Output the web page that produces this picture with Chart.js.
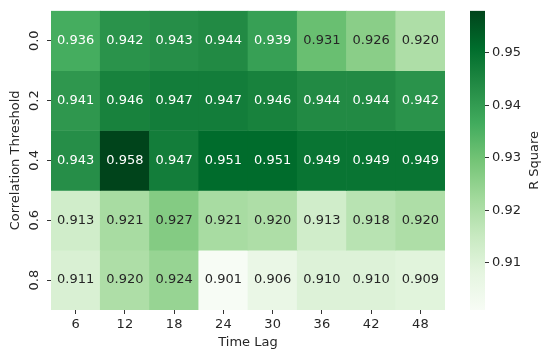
<!DOCTYPE html>
<html>
<head>
<meta charset="utf-8">
<script src="https://cdn.jsdelivr.net/npm/chart.js@4/dist/chart.umd.min.js"></script>
<style>
  body { margin: 0; background: #fff; }
  .wrap { position: relative; width: 550px; height: 359px; }
  #heat { position: absolute; left: 0; top: 0; }
  #cbar { position: absolute; left: 460px; top: 0; }
</style>
</head>
<body>
<div class="wrap">
  <canvas id="heat" width="460" height="359"></canvas>
  <canvas id="cbar" width="90" height="359"></canvas>
</div>
<script>
// data
const timeLags = ["6", "12", "18", "24", "30", "36", "42", "48"];
const thresholds = ["0.0", "0.2", "0.4", "0.6", "0.8"];
const row00 = [0.936, 0.942, 0.943, 0.944, 0.939, 0.931, 0.926, 0.920];
const row02 = [0.941, 0.946, 0.947, 0.947, 0.946, 0.944, 0.944, 0.942];
const row04 = [0.943, 0.958, 0.947, 0.951, 0.951, 0.949, 0.949, 0.949];
const row06 = [0.913, 0.921, 0.927, 0.921, 0.920, 0.913, 0.918, 0.920];
const row08 = [0.911, 0.920, 0.924, 0.901, 0.906, 0.910, 0.910, 0.909];
const rows = [row00, row02, row04, row06, row08];
const cbTicks = [0.91, 0.92, 0.93, 0.94, 0.95];
const vmin = 0.901, vmax = 0.958;

const FONT = "'DejaVu Sans', sans-serif";
const DARK = "#262626";

// matplotlib Greens
const greens = ["#f7fcf5", "#e5f5e0", "#c7e9c0", "#a1d99b", "#74c476", "#41ab5d", "#238b45", "#006d2c", "#00441b"];
function hexRgb(h) {
  return [parseInt(h.slice(1, 3), 16), parseInt(h.slice(3, 5), 16), parseInt(h.slice(5, 7), 16)];
}
function greenRgb(v) {
  let t = (v - vmin) / (vmax - vmin);
  t = Math.max(0, Math.min(1, t));
  const p = t * (greens.length - 1);
  const i = Math.min(Math.floor(p), greens.length - 2);
  const f = p - i;
  const a = hexRgb(greens[i]), b = hexRgb(greens[i + 1]);
  return a.map((c, k) => Math.round(c + (b[k] - c) * f));
}
function greenCss(v) {
  const c = greenRgb(v);
  return "rgb(" + c.join(",") + ")";
}
// seaborn picks text colour from luminance
function textColor(v) {
  const lin = greenRgb(v).map(c => {
    c = c / 255;
    return c <= 0.03928 ? c / 12.92 : Math.pow((c + 0.055) / 1.055, 2.4);
  });
  const lum = 0.2126 * lin[0] + 0.7152 * lin[1] + 0.0722 * lin[2];
  return lum > 0.408 ? DARK : "#ffffff";
}

// cell texts + rotated y labels + axis titles
const heatLabels = {
  id: "heatLabels",
  afterDatasetsDraw(chart) {
    const ctx = chart.ctx;
    ctx.save();
    ctx.font = "13px " + FONT;
    ctx.textAlign = "center";
    ctx.textBaseline = "middle";
    chart.data.datasets.forEach((ds, di) => {
      const meta = chart.getDatasetMeta(di);
      meta.data.forEach((bar, i) => {
        const v = rows[di][i];
        ctx.fillStyle = textColor(v);
        ctx.fillText(v.toFixed(3), bar.x, (bar.y + bar.base) / 2);
      });
    });
    ctx.restore();
  },
  afterDraw(chart) {
    const ctx = chart.ctx;
    const ys = chart.scales.y;
    const xs = chart.scales.x;
    const area = chart.chartArea;
    ctx.save();
    ctx.fillStyle = DARK;
    ctx.font = "13px " + FONT;
    ctx.textAlign = "center";
    ctx.textBaseline = "middle";
    thresholds.forEach((lab, i) => {
      const y = ys.getPixelForValue(i + 0.5);
      ctx.save();
      ctx.translate(35, y);
      ctx.rotate(-Math.PI / 2);
      ctx.fillText(lab, 0, 0);
      ctx.restore();
    });
    ctx.save();
    ctx.translate(16, (area.top + area.bottom) / 2);
    ctx.rotate(-Math.PI / 2);
    ctx.fillText("Correlation Threshold", 0, 0);
    ctx.restore();
    ctx.fillText("Time Lag", (xs.left + xs.right) / 2, 343);
    ctx.restore();
  }
};

const heatDatasets = rows.map((r, i) => ({
  label: thresholds[i],
  data: r.map(() => 1),
  backgroundColor: r.map(greenCss),
  borderWidth: 0,
  barPercentage: 1,
  categoryPercentage: 1
}));

new Chart(document.getElementById("heat"), {
  type: "bar",
  data: { labels: timeLags, datasets: heatDatasets },
  options: {
    responsive: false,
    animation: false,
    events: [],
    layout: { padding: { top: 7, right: 15, left: 0, bottom: 0 } },
    plugins: { legend: { display: false }, tooltip: { enabled: false } },
    scales: {
      x: {
        stacked: true,
        grid: { offset: false, drawOnChartArea: false, tickLength: 4, color: "#333", lineWidth: 1 },
        border: { display: false },
        ticks: { color: DARK, font: { family: FONT, size: 13 }, padding: 3, maxRotation: 0 },
        afterFit: (s) => { s.height = 49; }
      },
      y: {
        stacked: true,
        reverse: true,
        min: 0,
        max: 5,
        afterBuildTicks: (s) => { s.ticks = thresholds.map((t, i) => ({ value: i + 0.5 })); },
        grid: { drawOnChartArea: false, tickLength: 4, color: "#333", lineWidth: 1 },
        border: { display: false },
        ticks: { color: "transparent", font: { family: FONT, size: 13 } },
        afterFit: (s) => { s.width = 51; }
      }
    }
  },
  plugins: [heatLabels]
});

// colorbar
const cbTitle = {
  id: "cbTitle",
  afterDraw(chart) {
    const ctx = chart.ctx;
    const area = chart.chartArea;
    ctx.save();
    ctx.fillStyle = DARK;
    ctx.font = "13px " + FONT;
    ctx.textAlign = "center";
    ctx.textBaseline = "middle";
    ctx.translate(75, (area.top + area.bottom) / 2);
    ctx.rotate(-Math.PI / 2);
    ctx.fillText("R Square", 0, 0);
    ctx.restore();
  }
};

new Chart(document.getElementById("cbar"), {
  type: "bar",
  data: {
    labels: [""],
    datasets: [{
      data: [[vmin, vmax]],
      borderWidth: 0,
      barPercentage: 1,
      categoryPercentage: 1,
      backgroundColor: (c) => {
        const area = c.chart.chartArea;
        if (!area) return greens[4];
        const g = c.chart.ctx.createLinearGradient(0, area.bottom, 0, area.top);
        greens.forEach((col, i) => g.addColorStop(i / (greens.length - 1), col));
        return g;
      }
    }]
  },
  options: {
    responsive: false,
    animation: false,
    events: [],
    layout: { padding: { top: 7, left: 10, right: 0, bottom: 49 } },
    plugins: { legend: { display: false }, tooltip: { enabled: false } },
    scales: {
      x: { display: false },
      y: {
        position: "right",
        min: vmin,
        max: vmax,
        afterBuildTicks: (s) => { s.ticks = cbTicks.map(v => ({ value: v })); },
        grid: { drawOnChartArea: false, tickLength: 4, color: "#333", lineWidth: 1 },
        border: { display: false },
        ticks: { color: DARK, font: { family: FONT, size: 13 }, padding: 3, callback: (v) => v.toFixed(2) },
        afterFit: (s) => { s.width = 65; }
      }
    }
  },
  plugins: [cbTitle]
});
</script>
</body>
</html>
